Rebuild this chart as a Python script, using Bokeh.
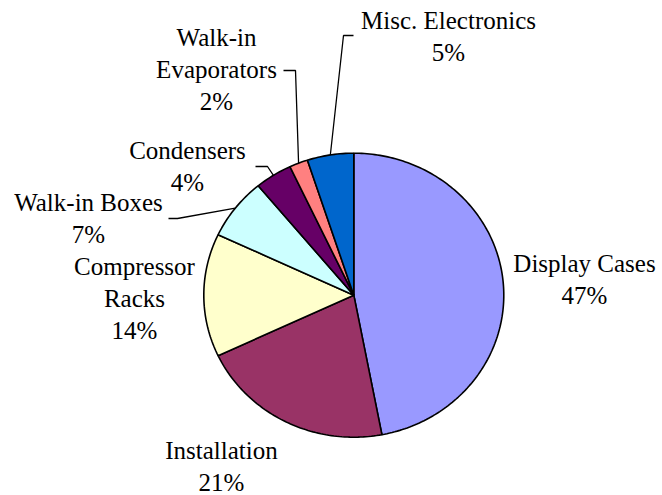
import numpy as np
from bokeh.plotting import figure
from bokeh.models import Range1d
from bokeh.core.properties import value
from bokeh.embed import file_html
from bokeh.resources import INLINE

# ---- data ----
categories = ["Display Cases", "Installation", "Compressor Racks", "Walk-in Boxes",
              "Condensers", "Walk-in Evaporators", "Misc. Electronics"]
label_names = ["Display Cases", "Installation", "Compressor\nRacks", "Walk-in Boxes",
               "Condensers", "Walk-in\nEvaporators", "Misc. Electronics"]
shares = [47, 21, 14, 7, 4, 2, 5]
colors = ["#9999FF", "#993366", "#FFFFCC", "#CCFFFF", "#660066", "#FF8080", "#0066CC"]

# ---- layout (page pixel coordinates) ----
CX, CY, RX, RY = 353.3, 294.7, 150.0, 142.0
label_pos = [(584, 279), (221, 466), (134, 298), (88, 218), (187, 166), (216, 69), (448, 36)]
# leader lines: index -> (elbow_x, elbow_y, end_x)
leaders = {3: (177, 218, 168), 4: (267, 166, 255), 5: (295, 70, 283), 6: (343, 35, 353)}

W, H = 662, 495
p = figure(width=W, height=H, output_backend="svg", toolbar_location=None,
           x_range=Range1d(0, W), y_range=Range1d(H, 0),
           min_border=0, outline_line_color=None)
p.axis.visible = False
p.grid.visible = False

total = float(sum(shares))
cum = np.cumsum([0] + shares) / total
xs, ys = [], []
for i in range(len(shares)):
    a0, a1 = cum[i] * 2 * np.pi, cum[i + 1] * 2 * np.pi
    n = max(4, int((a1 - a0) / (2 * np.pi) * 360))
    t = np.linspace(a0, a1, n)
    px = np.concatenate([[CX], CX + RX * np.sin(t)])
    py = np.concatenate([[CY], CY - RY * np.cos(t)])
    xs.append(list(px))
    ys.append(list(py))

p.patches(xs, ys, fill_color=colors, line_color="black", line_width=1.6)

# leader lines
for i, (ex, ey, endx) in leaders.items():
    am = (cum[i] + cum[i + 1]) / 2 * 2 * np.pi
    sx, sy = CX + RX * np.sin(am), CY - RY * np.cos(am)
    p.line([sx, ex, endx], [sy, ey, ey], line_color="black", line_width=1.3)

texts = [f"{n}\n{v}%" for n, v in zip(label_names, shares)]
p.text(x=[q[0] for q in label_pos], y=[q[1] for q in label_pos], text=texts,
       text_font=value("Times New Roman, serif"), text_font_size="25px",
       text_align="center", text_baseline="middle", text_line_height=1.18,
       text_color="black")

open("out.html", "w").write(file_html(p, INLINE))
